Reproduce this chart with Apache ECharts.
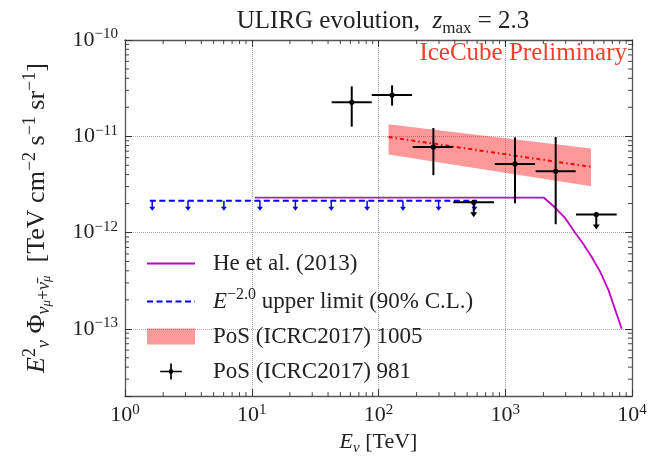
<!DOCTYPE html>
<html>
<head>
<meta charset="utf-8">
<script src="https://cdn.jsdelivr.net/npm/echarts@6.0.0/dist/echarts.min.js"></script>
<style>
  html, body { margin: 0; padding: 0; background: #fff; }
  #chart { width: 654px; height: 461px; }
</style>
</head>
<body>
<div id="chart"></div>
<script>
// IceCube 981 data points (energy bins + flux with errors)
var pointE = [61.5, 128, 271, 1194, 2500];
var pointF = [2.25e-11, 2.68e-11, 7.73e-12, 5.16e-12, 4.33e-12];
var pointElo = [42.7, 88.4, 186, 826, 1738];
var pointEhi = [88.4, 184, 385, 1717, 3594];
var pointFlo = [1.26e-11, 2.08e-11, 3.94e-12, 2.01e-12, 1.22e-12];
var pointFhi = [3.3e-11, 3.38e-11, 1.22e-11, 9.75e-12, 9.8e-12];

// 981 upper limits
var ulE = [564, 5227];
var ulF = [2.06e-12, 1.54e-12];
var ulElo = [389, 3614];
var ulEhi = [815, 7568];

// He et al. (2013)
var heE = [10.6, 2020, 2470, 2960, 3550, 4130, 4810, 5600, 6500, 7340, 8300];
var heF = [2.3e-12, 2.3e-12, 1.82e-12, 1.42e-12, 1.0e-12, 7.6e-13, 5.58e-13, 3.93e-13, 2.56e-13, 1.6e-13, 1.0e-13];

// E^-2 upper limit
var limE = [1.57, 600];
var limF = 2.14e-12;
var limArrowE = [1.64, 3.14, 6.03, 11.6, 22.1, 42.4, 81.3, 156, 298, 572];

// ICRC2017 1005 band
var bandE = [120, 4750];
var bandLo = [6.46e-12, 3.03e-12];
var bandHi = [1.33e-11, 7.48e-12];
var bandMid = [9.82e-12, 4.81e-12];

// axis ranges and minor tick multipliers
var xMin = 1, xMax = 1e4;
var yMin = 2e-14, yMax = 1e-10;
var minorMult = [2, 3, 4, 5, 6, 7, 8, 9];

var serif = 'Liberation Serif';

var myChart = echarts.init(document.getElementById('chart'));

function minorTicks(lo, hi) {
  var out = [];
  for (var d = Math.floor(Math.log10(lo)); d < Math.ceil(Math.log10(hi)); d++) {
    minorMult.forEach(function (m) {
      var v = m * Math.pow(10, d);
      if (v > lo * 1.001 && v < hi * 0.999) out.push(v);
    });
  }
  return out;
}

function expLabel(value) {
  var lg = Math.log10(value);
  var e = Math.round(lg);
  if (Math.abs(lg - e) > 0.01) return '';
  return '{b|10}{s|' + (e < 0 ? '\u2212' + (-e) : e) + '}';
}

var tickRich = {
  b: { fontFamily: serif, fontSize: 22, color: '#222', lineHeight: 26, verticalAlign: 'middle' },
  s: { fontFamily: serif, fontSize: 15, color: '#222', lineHeight: 14, verticalAlign: 'top' }
};

// rich text styles for a given base size
function makeRich(size) {
  var small = Math.round(size * 0.68);
  return {
    n: { fontFamily: serif, fontSize: size, fontWeight: 'normal', color: '#222', lineHeight: size + 6, verticalAlign: 'middle' },
    i: { fontFamily: serif, fontSize: size, fontWeight: 'normal', fontStyle: 'italic', color: '#222', lineHeight: size + 6, verticalAlign: 'middle' },
    sup: { fontFamily: serif, fontSize: small, fontWeight: 'normal', color: '#222', lineHeight: small, verticalAlign: 'top' },
    sub: { fontFamily: serif, fontSize: small, fontWeight: 'normal', color: '#222', lineHeight: small + 2, verticalAlign: 'bottom' },
    subi: { fontFamily: serif, fontSize: small, fontWeight: 'normal', fontStyle: 'italic', color: '#222', lineHeight: small + 2, verticalAlign: 'bottom' },
    ss: { fontFamily: serif, fontSize: Math.round(size * 0.5), fontWeight: 'normal', fontStyle: 'italic', color: '#222', lineHeight: Math.round(size * 0.5), verticalAlign: 'bottom' }
  };
}

function renderCross(params, api) {
  var x = api.value(0), y = api.value(1);
  var c = api.coord([x, y]);
  var l = api.coord([api.value(2), y]);
  var r = api.coord([api.value(3), y]);
  var b = api.coord([x, api.value(4)]);
  var t = api.coord([x, api.value(5)]);
  var st = { stroke: '#000', lineWidth: 2 };
  return {
    type: 'group',
    children: [
      { type: 'line', shape: { x1: l[0], y1: l[1], x2: r[0], y2: r[1] }, style: st },
      { type: 'line', shape: { x1: b[0], y1: b[1], x2: t[0], y2: t[1] }, style: st },
      { type: 'circle', shape: { cx: c[0], cy: c[1], r: 2.6 }, style: { fill: '#000' } }
    ]
  };
}

function renderUpper(params, api) {
  var x = api.value(0), y = api.value(1);
  var c = api.coord([x, y]);
  var l = api.coord([api.value(2), y]);
  var r = api.coord([api.value(3), y]);
  var st = { stroke: '#000', lineWidth: 2 };
  return {
    type: 'group',
    children: [
      { type: 'line', shape: { x1: l[0], y1: l[1], x2: r[0], y2: r[1] }, style: st },
      { type: 'line', shape: { x1: c[0], y1: c[1], x2: c[0], y2: c[1] + 11 }, style: st },
      { type: 'polygon', shape: { points: [[c[0] - 3.5, c[1] + 10], [c[0] + 3.5, c[1] + 10], [c[0], c[1] + 15]] }, style: { fill: '#000' } },
      { type: 'circle', shape: { cx: c[0], cy: c[1], r: 2.6 }, style: { fill: '#000' } }
    ]
  };
}

function renderArrow(params, api) {
  var c = api.coord([api.value(0), api.value(1)]);
  return {
    type: 'group',
    children: [
      { type: 'line', shape: { x1: c[0], y1: c[1], x2: c[0], y2: c[1] + 7 }, style: { stroke: '#0000ff', lineWidth: 1.5 } },
      { type: 'polygon', shape: { points: [[c[0] - 3, c[1] + 6], [c[0] + 3, c[1] + 6], [c[0], c[1] + 10]] }, style: { fill: '#0000ff' } }
    ]
  };
}

function renderBand(params, api) {
  if (params.dataIndex !== 0) return null;
  var pts = [];
  for (var i = 0; i < bandE.length; i++) pts.push(api.coord([bandE[i], bandHi[i]]));
  for (var j = bandE.length - 1; j >= 0; j--) pts.push(api.coord([bandE[j], bandLo[j]]));
  return { type: 'polygon', shape: { points: pts }, style: { fill: 'rgba(255,0,0,0.4)' } };
}

// minor ticks on the four frame sides, placed through the axis scales
var tickSt = { stroke: '#444', lineWidth: 1 };
function renderXMinor(params, api) {
  var x = api.coord([api.value(0), yMax])[0];
  var top = api.coord([xMin, yMax])[1];
  var bot = api.coord([xMin, yMin])[1];
  return {
    type: 'group',
    children: [
      { type: 'line', shape: { x1: x, y1: bot, x2: x, y2: bot - 4 }, style: tickSt },
      { type: 'line', shape: { x1: x, y1: top, x2: x, y2: top + 4 }, style: tickSt }
    ]
  };
}
function renderYMinor(params, api) {
  var y = api.coord([xMin, api.value(1)])[1];
  var left = api.coord([xMin, yMax])[0];
  var right = api.coord([xMax, yMax])[0];
  return {
    type: 'group',
    children: [
      { type: 'line', shape: { x1: left, y1: y, x2: left + 4, y2: y }, style: tickSt },
      { type: 'line', shape: { x1: right, y1: y, x2: right - 4, y2: y }, style: tickSt }
    ]
  };
}

var axisLineStyle = { color: '#555', width: 1.3 };

function logAxis(extra) {
  var base = {
    type: 'log',
    logBase: 10,
    axisLine: { show: true, onZero: false, lineStyle: axisLineStyle },
    axisTick: { show: true, inside: true, length: 7, lineStyle: { color: '#333', width: 1 } },
    splitLine: { show: false },
    axisLabel: { show: false }
  };
  for (var k in extra) base[k] = extra[k];
  return base;
}

var hideSymbol = { opacity: 0 };

var option = {
  animation: false,
  title: [
    {
      text: '{n|ULIRG evolution,  }{i|z}{sub|max}{n| = 2.3}',
      left: 378,
      textAlign: 'center',
      top: 1,
      textStyle: { fontWeight: 'normal', rich: makeRich(25) }
    },
    {
      text: 'IceCube Preliminary',
      right: 22,
      top: 36,
      textStyle: { fontFamily: serif, fontSize: 25, fontWeight: 'normal', color: '#ff3b2b' }
    }
  ],
  grid: { left: 125, right: 22, top: 40, bottom: 55, containLabel: false },
  legend: {
    orient: 'vertical',
    left: 146,
    top: 252,
    padding: 0,
    itemWidth: 48,
    itemHeight: 16,
    itemGap: 12,
    selectedMode: false,
    data: [
      { name: 'He et al. (2013)', itemStyle: hideSymbol },
      { name: 'E-2 upper limit', itemStyle: hideSymbol },
      { name: 'PoS (ICRC2017) 1005', icon: 'rect' },
      { name: 'PoS (ICRC2017) 981', icon: 'path://M0,7.6h23v1.8h-23z M10.6,0h1.8v17h-1.8z M9.5,6.5h4v4h-4z' }
    ],
    formatter: function (name) {
      if (name === 'E-2 upper limit') return '{i|E}{sup|\u22122.0}{n| upper limit (90% C.L.)}';
      return '{n|' + name + '}';
    },
    textStyle: { padding: [0, 0, 0, 13], rich: makeRich(23) }
  },
  xAxis: [
    logAxis({
      min: xMin, max: xMax,
      position: 'bottom',
      name: '{i|E}{subi|\u03bd}{n| [TeV]}',
      nameLocation: 'middle',
      nameGap: 24,
      nameTextStyle: { rich: makeRich(22), verticalAlign: 'top' },
      splitLine: { show: true, lineStyle: { color: '#aaa', type: 'dotted', width: 1 } },
      axisLabel: { show: true, margin: 6, formatter: expLabel, rich: tickRich }
    }),
    logAxis({ min: xMin, max: xMax, position: 'top' })
  ],
  yAxis: [
    logAxis({
      min: yMin, max: yMax,
      position: 'left',
      name: '{i|E}{sup|2}{subi|\u03bd}{n| \u03a6}{subi|\u03bd}{ss|\u03bc}{sub|+}{subi|\u03bd\u0304}{ss|\u03bc}{n|  [TeV cm}{sup|\u22122}{n| s}{sup|\u22121}{n| sr}{sup|\u22121}{n|]}',
      nameLocation: 'middle',
      nameGap: 72,
      nameTextStyle: { rich: makeRich(26) },
      splitLine: { show: true, lineStyle: { color: '#aaa', type: 'dotted', width: 1 } },
      axisLabel: { show: true, margin: 7, formatter: expLabel, rich: tickRich }
    }),
    logAxis({ min: yMin, max: yMax, position: 'right' })
  ],
  series: [
    {
      name: 'x minor',
      type: 'custom',
      renderItem: renderXMinor,
      silent: true,
      clip: false,
      data: minorTicks(xMin, xMax).map(function (v) { return [v, 1e-12]; }),
      z: 4
    },
    {
      name: 'y minor',
      type: 'custom',
      renderItem: renderYMinor,
      silent: true,
      clip: false,
      data: minorTicks(yMin, yMax).map(function (v) { return [10, v]; }),
      z: 4
    },
    {
      name: 'PoS (ICRC2017) 1005',
      type: 'custom',
      renderItem: renderBand,
      itemStyle: { color: 'rgba(255,0,0,0.4)' },
      data: bandE.map(function (e, i) { return [e, bandMid[i]]; }),
      z: 1
    },
    {
      name: 'band mid',
      type: 'line',
      symbol: 'none',
      lineStyle: { color: '#ff0000', width: 2, type: [4, 3, 1.5, 3] },
      data: bandE.map(function (e, i) { return [e, bandMid[i]]; }),
      z: 2
    },
    {
      name: 'He et al. (2013)',
      type: 'line',
      symbol: 'none',
      color: '#c000c0',
      lineStyle: { color: '#c000c0', width: 1.8 },
      data: heE.map(function (e, i) { return [e, heF[i]]; }),
      z: 3
    },
    {
      name: 'E-2 upper limit',
      type: 'line',
      symbol: 'none',
      color: '#0000ff',
      lineStyle: { color: '#0000ff', width: 2, type: [6, 3.5] },
      data: limE.map(function (e) { return [e, limF]; }),
      z: 3
    },
    {
      name: 'lim arrows',
      type: 'custom',
      renderItem: renderArrow,
      data: limArrowE.map(function (e) { return [e, limF]; }),
      z: 3
    },
    {
      name: 'PoS (ICRC2017) 981',
      type: 'custom',
      renderItem: renderCross,
      itemStyle: { color: '#000' },
      data: pointE.map(function (e, i) { return [e, pointF[i], pointElo[i], pointEhi[i], pointFlo[i], pointFhi[i]]; }),
      z: 5
    },
    {
      name: 'PoS (ICRC2017) 981',
      type: 'custom',
      renderItem: renderUpper,
      itemStyle: { color: '#000' },
      data: ulE.map(function (e, i) { return [e, ulF[i], ulElo[i], ulEhi[i]]; }),
      z: 5
    }
  ]
};

myChart.setOption(option);
</script>
</body>
</html>
